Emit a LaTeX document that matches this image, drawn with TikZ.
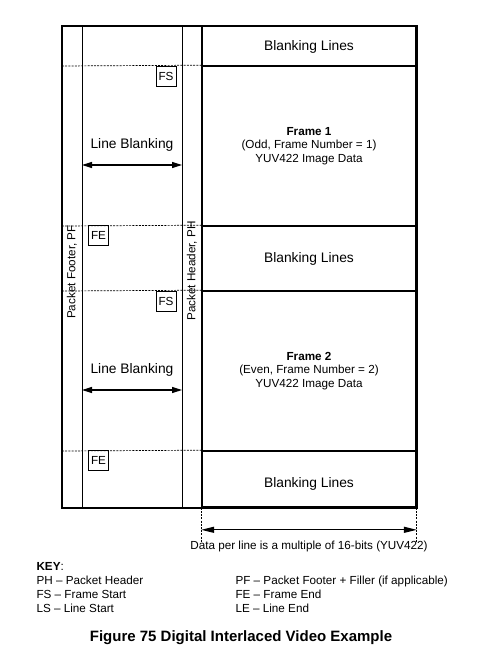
\documentclass[tikz,border=0pt]{standalone}
\usepackage{fontspec}
\setmainfont{Liberation Sans}
\usetikzlibrary{arrows.meta,positioning,calc}

\begin{document}
\begin{tikzpicture}[x=1pt,y=-1pt,>={Triangle[length=10pt,width=6pt]},
 cell/.style={draw,line width=1.6pt,minimum width=214pt,inner sep=0pt,align=center,font=\fontsize{11.7}{13.5}\selectfont},
 tag/.style={draw,line width=0.8pt,minimum size=20pt,inner sep=0pt,font=\fontsize{11.7}{14}\selectfont},
 big/.style={font=\fontsize{13.8}{16}\selectfont},
 sm/.style={font=\fontsize{11.7}{14}\selectfont},
 thin/.style={line width=0.9pt},
 sep/.style={line width=0.7pt,dash pattern=on 2pt off 1.2pt},
 dim/.style={line width=1.2pt,<->}]
 \useasboundingbox (0,0) rectangle (486,666);
 % right column: blanking lines and the two fields
 \node[cell,big,minimum height=40pt,text height=12pt] (bl1) at (309,46) {Blanking Lines};
 \node[cell,minimum height=160pt] (fr1) at (309,146) {\textbf{Frame 1}\\(Odd, Frame Number = 1)\\YUV422 Image Data};
 \node[cell,big,minimum height=65pt,text height=11pt] (bl2) at (309,258.5) {Blanking Lines};
 \node[cell,minimum height=160pt] (fr2) at (309,371) {\textbf{Frame 2}\\(Even, Frame Number = 2)\\YUV422 Image Data};
 \node[cell,big,minimum height=56pt,text height=20pt] (bl3) at (309,479) {Blanking Lines};
 % left part
 \draw[line width=1.6pt] (62,26) rectangle (bl3.south east);
 \draw[thin] (82,26) -- (82,507);
 \draw[thin] (182,26) -- (182,507);
 \draw[sep] (62,66) -- (fr1.north west);
 \draw[sep] (62,226) -- (bl2.north west);
 \draw[sep] (62,291) -- (fr2.north west);
 \draw[sep] (62,451) -- (bl3.north west);
 \node[sm,rotate=90] (pf) at (72,272) {Packet Footer, PF};
 \node[sm,rotate=90] (ph) at (192,271) {Packet Header, PH};
 \node[tag] (fs1) at (166,76) {FS};
 \node[tag] (fe1) at (98.5,235.5) {FE};
 \node[tag] (fs2) at (166,301) {FS};
 \node[tag] (fe2) at (98.5,460.5) {FE};
 \node[big] (lb1) at (132,145) {Line Blanking};
 \node[big] (lb2) at (132,370) {Line Blanking};
 \coordinate (a1) at (82,165); \coordinate (b1) at (182,165);
 \coordinate (a2) at (82,390); \coordinate (b2) at (182,390);
 \draw[dim] (a1) -- (b1);
 \draw[dim] (a2) -- (b2);
 % line width
 \draw[sep] (bl3.south west) -- ++(0,34) coordinate (dl);
 \draw[sep] (bl3.south east) -- ++(0,34) coordinate (dr);
 \draw[dim,>={Triangle[length=13pt,width=6pt]}] ($(bl3.south west)+(0,22)$) -- ($(bl3.south east)+(0,22)$);
 \node[sm] (dpl) at (309,546) {Data per line is a multiple of 16-bits (YUV422)};
 % key
 \node[sm,anchor=base west] (key) at (33,570) {\textbf{KEY}:};
 \node[sm,anchor=base west] (k1) at (33,584) {PH – Packet Header};
 \node[sm,anchor=base west] (k2) at (33,598) {FS – Frame Start};
 \node[sm,anchor=base west] (k3) at (33,612) {LS – Line Start};
 \node[sm,anchor=base west] (k4) at (232,584) {PF – Packet Footer + Filler (if applicable)};
 \node[sm,anchor=base west] (k5) at (232,598) {FE – Frame End};
 \node[sm,anchor=base west] (k6) at (232,612) {LE – Line End};
 \node[font=\bfseries\fontsize{15}{18}\selectfont] (cap) at (241,638) {Figure 75 Digital Interlaced Video Example};
\end{tikzpicture}
\end{document}
